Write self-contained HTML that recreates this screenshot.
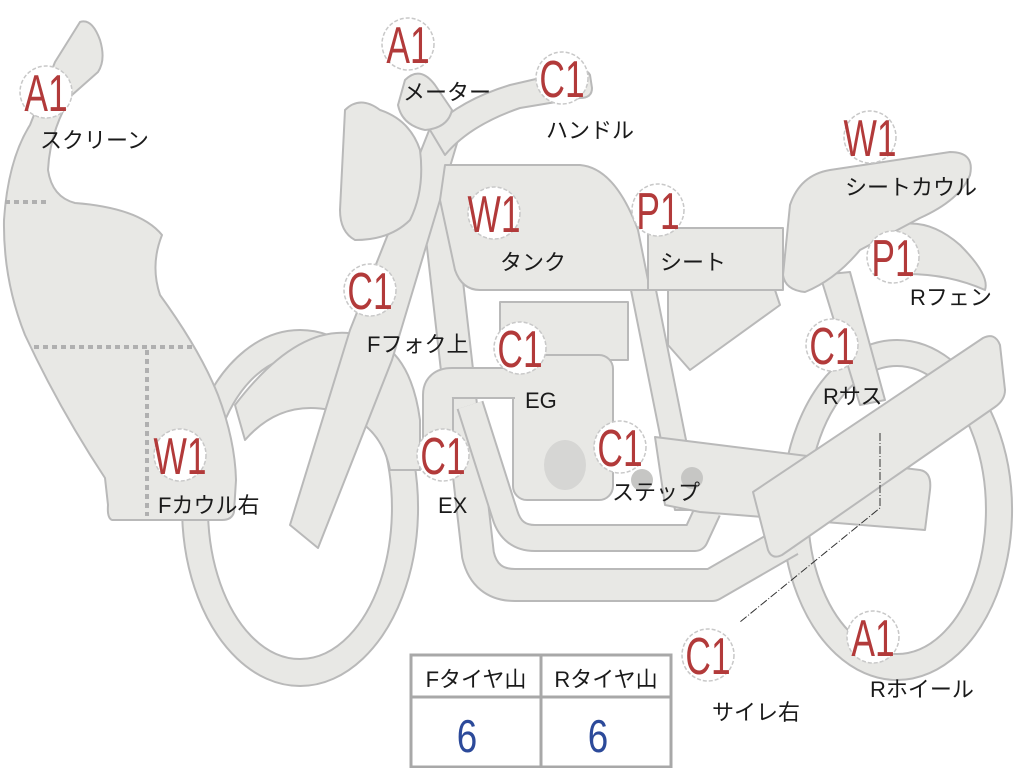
<!DOCTYPE html>
<html><head><meta charset="utf-8"><style>
html,body{margin:0;padding:0;background:#fff;}
svg{display:block}
.f{fill:#e8e8e5;stroke:#b9b9b9;stroke-width:2;stroke-linejoin:round}
.l{font-family:"Liberation Sans","Noto Sans CJK JP",sans-serif;font-size:22px;fill:#1a1a1a}
.b{font-family:"Liberation Sans","Noto Sans CJK JP",sans-serif;font-size:52px;fill:#b23a3a}
</style></head><body>
<svg width="1024" height="768" viewBox="0 0 1024 768" xmlns="http://www.w3.org/2000/svg">
<path class="f" fill-rule="evenodd" d="M300,330 A118,178 0 1,0 300.1,330 Z M300,357 A92,151 0 1,1 299.9,357 Z"/>
<path class="f" fill-rule="evenodd" d="M897,340 A115,170 0 1,0 897.1,340 Z M897,366 A89,144 0 1,1 896.9,366 Z"/>
<path class="f" d="M235,405 Q300,320 360,335 Q410,345 420,420 L420,470 L390,470 Q380,420 330,410 Q280,400 245,440 Z"/>
<path d="M432,150 L478,555 Q485,585 515,585 L712,585 L790,540" fill="none" stroke="#b9b9b9" stroke-width="34" stroke-linejoin="round"/>
<path d="M432,150 L478,555 Q485,585 515,585 L712,585 L790,540" fill="none" stroke="#e8e8e5" stroke-width="30" stroke-linejoin="round"/>
<path d="M470,405 L505,515 Q512,538 535,538 L695,538 L708,510" fill="none" stroke="#b9b9b9" stroke-width="28" stroke-linejoin="round"/>
<path d="M470,405 L505,515 Q512,538 535,538 L695,538 L708,510" fill="none" stroke="#e8e8e5" stroke-width="24" stroke-linejoin="round"/>
<path class="f" d="M630,285 L655,285 L700,510 L675,510 Z"/>
<path class="f" d="M655,437 L920,470 Q932,472 930,490 L925,530 L700,512 L665,505 Z"/>
<rect class="f" x="500" y="302" width="128" height="58"/>
<rect class="f" x="513" y="355" width="100" height="145" rx="14"/>
<ellipse cx="565" cy="465" rx="21" ry="25" fill="#d6d6d4"/>
<circle cx="642" cy="480" r="11" fill="#c6c6c4"/>
<circle cx="692" cy="478" r="11" fill="#c6c6c4"/>
<path d="M438,460 L438,395 Q438,383 452,383 L515,383" fill="none" stroke="#b9b9b9" stroke-width="32" stroke-linejoin="round"/>
<path d="M438,460 L438,395 Q438,383 452,383 L515,383" fill="none" stroke="#e8e8e5" stroke-width="28" stroke-linejoin="round"/>
<path class="f" d="M290,525 L318,548 L392,360 L458,140 L430,128 L350,330 Z"/>
<path class="f" d="M820,275 L850,272 L885,400 L860,405 Z"/>
<path class="f" d="M753,492 L983,338 Q995,332 1000,345 L1005,390 Q1005,400 995,407 L782,555 Q772,560 768,550 Z"/>
<path class="f" d="M445,165 L580,165 Q615,168 638,230 L650,290 L480,290 Q462,290 455,270 L440,200 Z"/>
<path class="f" d="M668,290 L775,290 L780,305 L690,370 L668,345 Z"/>
<rect class="f" x="648" y="228" width="135" height="62"/>
<path class="f" d="M880,232 Q920,210 960,245 Q990,275 985,290 Q940,270 885,275 Z"/>
<path class="f" d="M790,205 Q800,175 830,170 L950,152 Q975,152 970,175 Q960,200 920,218 L860,250 Q835,280 805,292 Q785,290 783,275 Z"/>
<path class="f" d="M345,110 Q360,95 380,110 Q410,120 420,150 Q425,190 410,220 Q390,240 355,240 Q340,232 340,210 Z"/>
<path class="f" d="M445,155 Q470,125 520,108 L580,98 Q592,98 592,88 L590,75 Q586,68 575,70 L510,85 Q460,100 430,130 Z"/>
<path class="f" d="M405,80 Q420,65 435,85 L452,110 Q448,128 425,130 Q402,125 398,105 Z"/>
<path class="f" d="M80,22 Q92,18 100,40 Q106,60 98,72 L72,95 Q50,130 48,170 Q52,197 75,203 Q140,208 162,235 Q150,265 160,295 Q200,350 218,395 Q235,440 236,480 L234,512 Q232,520 222,520 L112,520 Q107,518 108,505 L105,478 Q60,410 25,335 Q3,280 4,220 Q8,160 30,125 L55,62 Z"/>
<g stroke="#b0b0b0" stroke-width="4" stroke-dasharray="5,4">
<line x1="5" y1="202" x2="50" y2="202"/>
<line x1="34" y1="347" x2="192" y2="347"/>
<line x1="147" y1="350" x2="147" y2="516"/>
</g>
<path d="M880,433 L880,508 L740,622" fill="none" stroke="#333" stroke-width="1" stroke-dasharray="8,2,1,2"/>
<rect x="411" y="655" width="260" height="112" fill="#fff" stroke="#a8a8a8" stroke-width="3"/>
<line x1="411" y1="697" x2="671" y2="697" stroke="#a8a8a8" stroke-width="3"/>
<line x1="541" y1="655" x2="541" y2="767" stroke="#a8a8a8" stroke-width="3"/>
<text class="l" x="476" y="687" text-anchor="middle">Fタイヤ山</text>
<text class="l" x="606" y="687" text-anchor="middle">Rタイヤ山</text>
<text x="0" y="0" text-anchor="middle" font-family="Liberation Sans,sans-serif" font-size="46" fill="#2c4a9a" transform="translate(467,752) scale(0.8,1)">6</text>
<text x="0" y="0" text-anchor="middle" font-family="Liberation Sans,sans-serif" font-size="46" fill="#2c4a9a" transform="translate(598,752) scale(0.8,1)">6</text>
<g fill="#fff" stroke="#c8c8c8" stroke-width="1.5" stroke-dasharray="4,2">
<circle cx="46" cy="92" r="26"/><circle cx="408" cy="44" r="26"/><circle cx="562" cy="78" r="26"/>
<circle cx="870" cy="137" r="26"/><circle cx="494" cy="213" r="26"/><circle cx="658" cy="210" r="26"/>
<circle cx="893" cy="257" r="26"/><circle cx="370" cy="290" r="26"/><circle cx="520" cy="348" r="26"/>
<circle cx="832" cy="345" r="26"/><circle cx="180" cy="455" r="26"/><circle cx="443" cy="455" r="26"/>
<circle cx="620" cy="447" r="26"/><circle cx="708" cy="655" r="26"/><circle cx="873" cy="637" r="26"/>
</g>
<g class="b" text-anchor="middle">
<text transform="translate(46,111) scale(0.68,1)">A1</text>
<text transform="translate(408,63) scale(0.68,1)">A1</text>
<text transform="translate(562,97) scale(0.68,1)">C1</text>
<text transform="translate(870,156) scale(0.68,1)">W1</text>
<text transform="translate(494,232) scale(0.68,1)">W1</text>
<text transform="translate(658,229) scale(0.68,1)">P1</text>
<text transform="translate(893,276) scale(0.68,1)">P1</text>
<text transform="translate(370,309) scale(0.68,1)">C1</text>
<text transform="translate(520,367) scale(0.68,1)">C1</text>
<text transform="translate(832,364) scale(0.68,1)">C1</text>
<text transform="translate(180,474) scale(0.68,1)">W1</text>
<text transform="translate(443,474) scale(0.68,1)">C1</text>
<text transform="translate(620,466) scale(0.68,1)">C1</text>
<text transform="translate(708,674) scale(0.68,1)">C1</text>
<text transform="translate(873,656) scale(0.68,1)">A1</text>
</g>
<g class="l">
<text x="40" y="148">スクリーン</text>
<text x="403" y="100">メーター</text>
<text x="546" y="138">ハンドル</text>
<text x="845" y="195">シートカウル</text>
<text x="500" y="270">タンク</text>
<text x="660" y="270">シート</text>
<text x="910" y="305">Rフェン</text>
<text x="367" y="352">Fフォク上</text>
<text x="525" y="408">EG</text>
<text x="823" y="404">Rサス</text>
<text x="158" y="513">Fカウル右</text>
<text x="438" y="513">EX</text>
<text x="612" y="500">ステップ</text>
<text x="712" y="720">サイレ右</text>
<text x="870" y="697">Rホイール</text>
</g>
</svg>
</body></html>
